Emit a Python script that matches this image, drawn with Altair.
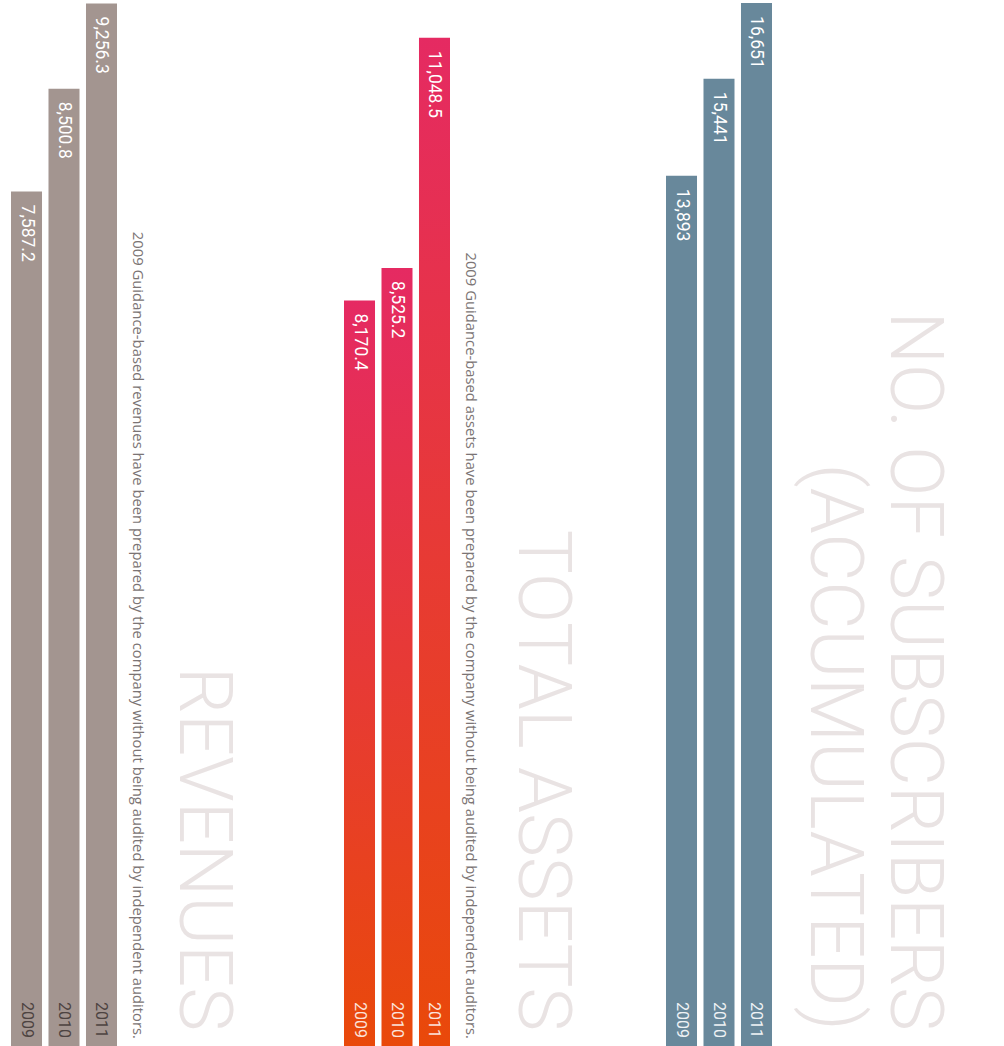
import altair as alt
import pandas as pd

# Yearly figures shown in the three bar groups
years = ["2009", "2010", "2011"]
revenues = [7587.2, 8500.8, 9256.3]
total_assets = [8170.4, 8525.2, 11048.5]
subscribers = [13893, 15441, 16651]

footnote_revenues = ("2009 Guidance-based revenues have been prepared by the company "
                     "without being audited by independent auditors.")
footnote_assets = ("2009 Guidance-based assets have been prepared by the company "
                   "without being audited by independent auditors.")

H = 1046
FONT = "Roboto"
TITLE_COLOR = "#e9e3e3"


def panel(values, width, y_max, fill, fmt, year_color, titles, footnote=None):
    df = pd.DataFrame({"year": years, "value": values})
    base = alt.Chart(df).encode(
        x=alt.X("year:N", axis=None,
                scale=alt.Scale(range=[11, 117], paddingInner=0.173, paddingOuter=0)),
    )
    y = alt.Y("value:Q", axis=None,
              scale=alt.Scale(domain=[0, y_max], nice=False, zero=True))

    layers = []
    # big rotated headings behind the bars
    for text, x_base in titles:
        layers.append(
            alt.Chart(pd.DataFrame({"t": [text]})).mark_text(
                angle=90, align="right", baseline="alphabetic",
                font=FONT, fontWeight=300, fontSize=74, color=TITLE_COLOR,
            ).encode(x=alt.value(x_base), y=alt.value(1031), text="t:N")
        )
    if footnote:
        layers.append(
            alt.Chart(pd.DataFrame({"t": [footnote]})).mark_text(
                angle=90, align="right", baseline="middle",
                font="Open Sans", fontSize=14.8, color="#7b7474",
            ).encode(x=alt.value(137), y=alt.value(1039), text="t:N")
        )

    bars = base.mark_bar(color=fill, clip=True).encode(y=y)
    value_labels = base.mark_text(
        angle=90, align="left", baseline="middle", dx=13,
        font=FONT, fontWeight=400, fontSize=17.5, color="white",
    ).encode(y=y, text=alt.Text("value:Q", format=fmt))
    year_labels = base.mark_text(
        angle=90, align="right", baseline="middle", dx=-8,
        font=FONT, fontWeight=400, fontSize=16, color=year_color,
    ).encode(y=alt.datum(0, scale=alt.Scale(domain=[0, y_max], nice=False)), text="year:N")

    return alt.layer(*layers, bars, value_labels, year_labels).properties(
        width=width, height=H
    )


assets_fill = alt.Gradient(
    gradient="linear",
    stops=[alt.GradientStop(color="#e52a62", offset=0),
           alt.GradientStop(color="#e9490a", offset=1)],
    x1=0, x2=0, y1=0, y2=1,
)

p1 = panel(revenues, 333, 9288, "#a39590", ",.1f", "#4d4341",
           [("REVENUES", 180)], footnote_revenues)
p2 = panel(total_assets, 322, 11463, assets_fill, ",.1f", "#fbe3da",
           [("TOTAL ASSETS", 186)], footnote_assets)
p3 = panel(subscribers, 349, 16700, "#68889b", ",d", "#eef2f5",
           [("NO. OF SUBSCRIBERS", 236), ("(ACCUMULATED)", 156)])

chart = alt.hconcat(p1, p2, p3, spacing=0, bounds="flush").configure(
    padding=0, background="white"
).configure_view(stroke=None)

chart.save("out.html", embed_options={"renderer": "svg", "actions": False})
